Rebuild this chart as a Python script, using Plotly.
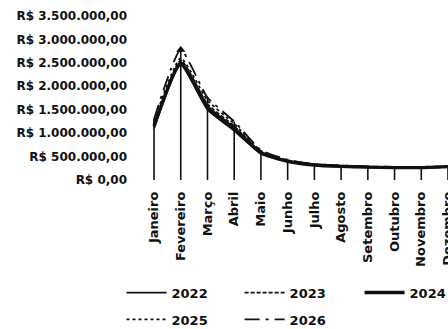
import plotly.graph_objects as go

# Monthly amounts (R$) per year
meses = ["Janeiro", "Fevereiro", "Março", "Abril", "Maio", "Junho", "Julho",
         "Agosto", "Setembro", "Outubro", "Novembro", "Dezembro"]

v2022 = [1100000, 2450000, 1500000, 1050000, 560000, 390000, 320000, 290000, 270000, 260000, 260000, 280000]
v2023 = [1200000, 2550000, 1620000, 1150000, 600000, 410000, 330000, 300000, 280000, 270000, 270000, 290000]
v2024 = [1150000, 2500000, 1560000, 1100000, 580000, 400000, 320000, 290000, 275000, 265000, 265000, 285000]
v2025 = [1250000, 2600000, 1700000, 1200000, 620000, 420000, 335000, 305000, 285000, 275000, 275000, 295000]
v2026 = [1300000, 2780000, 1760000, 1250000, 640000, 430000, 340000, 310000, 290000, 280000, 280000, 300000]

y_ticks = [0, 500000, 1000000, 1500000, 2000000, 2500000, 3000000, 3500000]
y_labels = ["R$ 0,00", "R$ 500.000,00", "R$ 1.000.000,00", "R$ 1.500.000,00",
            "R$ 2.000.000,00", "R$ 2.500.000,00", "R$ 3.000.000,00", "R$ 3.500.000,00"]

# name, values, line style, legend column
series = [
    ("2022", v2022, dict(width=1.8, dash="solid"), "legend"),
    ("2023", v2023, dict(width=1.8, dash="4px,2px"), "legend2"),
    ("2024", v2024, dict(width=3.4, dash="solid"), "legend3"),
    ("2025", v2025, dict(width=1.8, dash="dot"), "legend"),
    ("2026", v2026, dict(width=1.8, dash="longdashdot"), "legend2"),
]

FONT = "DejaVu Sans"
INK = "#111111"
xs = list(range(len(meses)))

fig = go.Figure()

# Drop lines from the axis up to the highest value of each month
tops = [max(vals) for vals in zip(*[s[1] for s in series])]
dx, dy = [], []
for i, t in enumerate(tops):
    dx += [i, i, None]
    dy += [0, t, None]
fig.add_trace(go.Scatter(x=dx, y=dy, mode="lines", line=dict(color=INK, width=1.6),
                         showlegend=False, hoverinfo="skip"))

for name, vals, ln, lg in series:
    fig.add_trace(go.Scatter(
        x=xs, y=vals, name=name, mode="lines",
        line=dict(color=INK, shape="spline", smoothing=0.5, **ln),
        legend=lg, legendgroup=name,
    ))

# Arrowhead on the overall peak
pk = max(range(len(tops)), key=lambda i: tops[i])
fig.add_trace(go.Scatter(x=[pk], y=[tops[pk]], mode="markers",
                         marker=dict(symbol="triangle-up", size=8, color=INK),
                         showlegend=False, hoverinfo="skip"))

leg_common = dict(orientation="v", xanchor="left", yanchor="top", y=-0.595,
                  tracegroupgap=7, itemwidth=40, bgcolor="rgba(0,0,0,0)",
                  font=dict(family=FONT, size=13, weight="bold"))

fig.update_layout(
    width=448, height=329,
    margin=dict(l=142, r=0, t=16, b=149, autoexpand=False),
    paper_bgcolor="white", plot_bgcolor="white",
    font=dict(family=FONT, color=INK, size=12),
    xaxis=dict(range=[-0.45, 11.0], tickvals=xs, ticktext=meses, tickangle=-90,
               showgrid=False, zeroline=False, showline=False, ticks="",
               ticklabelstandoff=8, ticklabeloverflow="allow",
               tickfont=dict(family=FONT, size=13, weight="bold")),
    yaxis=dict(range=[0, 3500000], tickvals=y_ticks, ticktext=y_labels,
               showgrid=False, zeroline=False, showline=False, ticks="",
               ticklabelstandoff=14,
               tickfont=dict(family=FONT, size=12, weight="bold")),
    legend=dict(x=-0.067, **leg_common),
    legend2=dict(x=0.319, **leg_common),
    legend3=dict(x=0.711, **leg_common),
    showlegend=True,
)

fig.write_html("out.html")
